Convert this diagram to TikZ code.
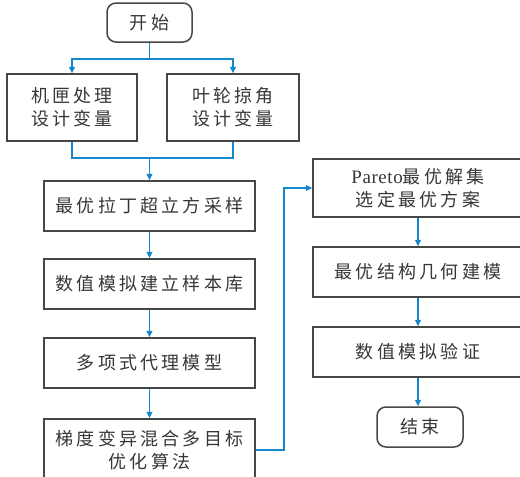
\documentclass[tikz,border=0pt]{standalone}
\usepackage{fontspec}
\usetikzlibrary{arrows.meta,calc}
\newfontfamily\cjk[LetterSpace=18]{Noto Sans CJK SC}
\newfontfamily\latf[LetterSpace=3]{Liberation Serif}
\definecolor{flowblue}{RGB}{20,135,205}
\definecolor{txtgray}{RGB}{55,55,55}
\definecolor{boxgray}{RGB}{70,70,70}
\tikzset{
  box/.style={draw=boxgray, line width=1.5pt, fill=white, minimum width=#1, align=center,
    text=txtgray, font=\cjk\fontsize{18}{23}\selectfont, inner sep=0pt},
  box/.default=211pt,
  term/.style={box=#1, rounded corners=9pt},
  conn/.style={draw=flowblue, line width=1.3pt},
  arr/.style={conn, -{Triangle[width=6pt,length=6.5pt]}}
}
\begin{document}
\begin{tikzpicture}[x=1pt,y=-1pt]
\useasboundingbox (0,0) rectangle (520,477);
\clip (0,0) rectangle (520,477);
\node[term=85pt, minimum height=39pt] (start) at (149.5,22.5) {开始};
\node[box=130pt, minimum height=67pt] (A) at (72,107.5) {机匣处理\\设计变量};
\node[box=132pt, minimum height=67pt] (B) at (233,107.5) {叶轮掠角\\设计变量};
\node[box, minimum height=50pt] (C1) at (149.5,206) {最优拉丁超立方采样};
\node[box, minimum height=50pt] (C2) at (149.5,284) {数值模拟建立样本库};
\node[box, minimum height=50pt] (C3) at (149.5,363) {多项式代理模型};
\node[box, minimum height=62pt] (C4) at (149.5,450) {梯度变异混合多目标\\优化算法};
\node[box=210pt, minimum height=58pt] (R1) at (418,188) {{\latf\fontsize{19}{23}\selectfont Pareto}最优解集\\选定最优方案};
\node[box=210pt, minimum height=50pt] (R2) at (418,272) {最优结构几何建模};
\node[box=210pt, minimum height=50pt] (R3) at (418,352) {数值模拟验证};
\node[term=86pt, minimum height=40pt] (end) at (420,427) {结束};
\coordinate (split) at (149.5,59);
\coordinate (merge) at (149.5,158);
\coordinate (turn) at (284,0);
\draw[conn] (start.south) -- (split);
\draw[arr] (split) -| (A.north);
\draw[arr] (split) -| (B.north);
\draw[conn] (A.south) |- (merge);
\draw[conn] (B.south) |- (merge);
\draw[arr] (merge) -- (C1.north);
\draw[arr] (C1) -- (C2);
\draw[arr] (C2) -- (C3);
\draw[arr] (C3) -- (C4);
\draw[arr] (C4.east) -- (C4.east -| turn) -- (R1.west -| turn) -- (R1.west);
\draw[arr] (R1) -- (R2);
\draw[arr] (R2) -- (R3);
\draw[arr] (R3.south) -- (R3.south |- end.north);
\end{tikzpicture}
\end{document}
